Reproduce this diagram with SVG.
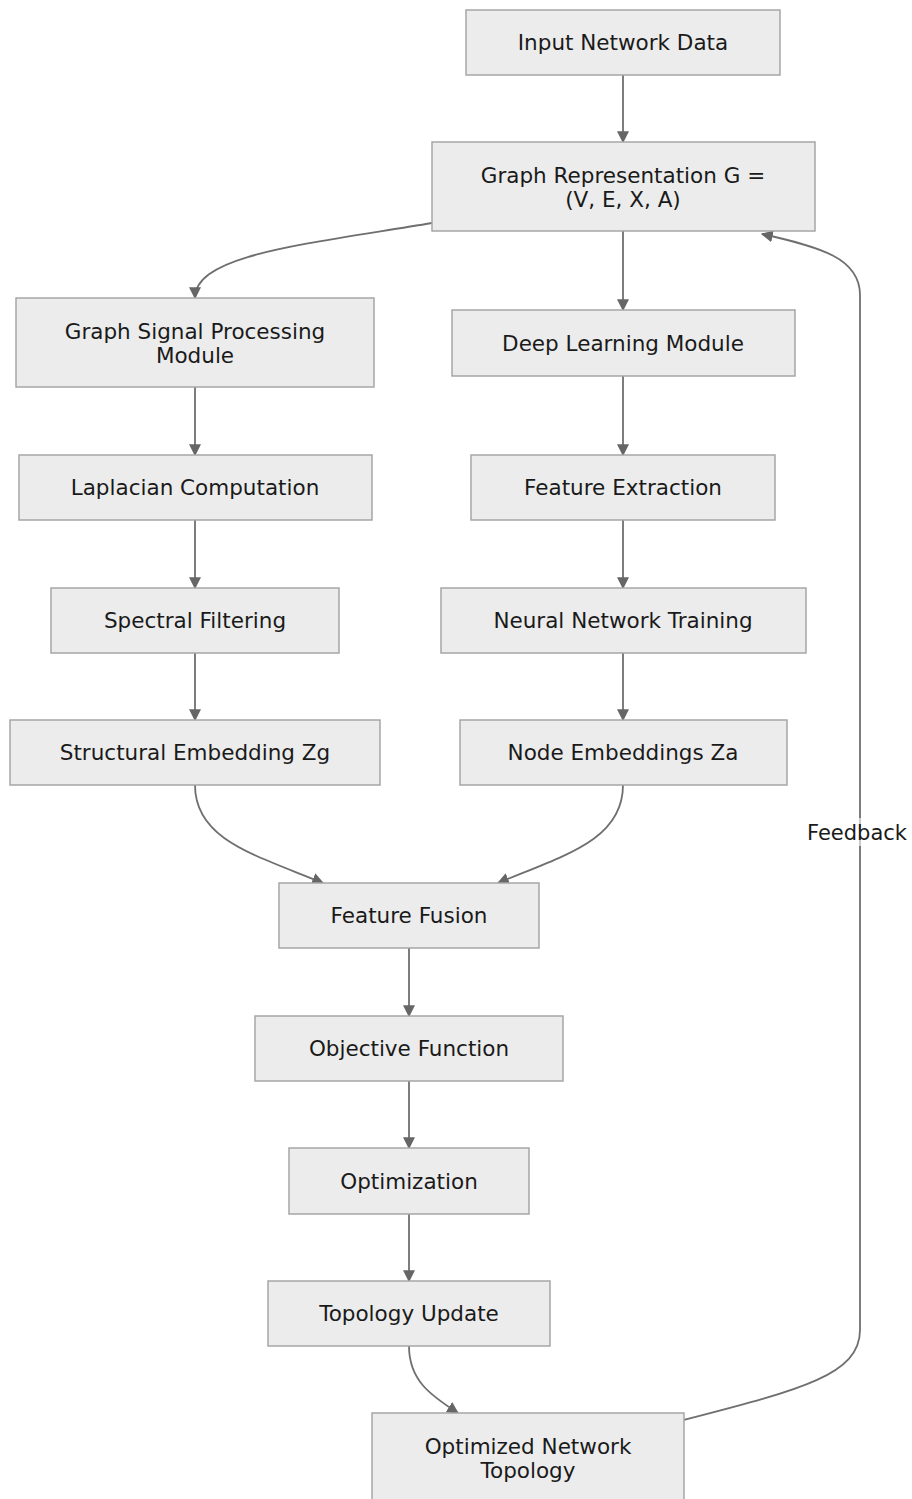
<svg xmlns="http://www.w3.org/2000/svg" width="912" height="1499" viewBox="0 0 912 1499">
<defs>
<style>
.node rect{fill:#ececec;stroke:#a6a6a6;stroke-width:1.5}
.node text{font-family:"DejaVu Sans",sans-serif;font-size:21.5px;fill:#1a1a1a;text-anchor:middle}
.edge{fill:none;stroke:#6f6f6f;stroke-width:1.8}
.lbl{font-family:"DejaVu Sans",sans-serif;font-size:21px;fill:#1a1a1a;text-anchor:middle}
</style>
<marker id="ah" viewBox="0 0 10 10" refX="9" refY="5" markerWidth="12" markerHeight="12" markerUnits="userSpaceOnUse" orient="auto">
<path d="M0,0 L10,5 L0,10 z" fill="#666"/>
</marker>
</defs>
<rect width="912" height="1499" fill="#fff"/>
<g id="connectors">
<path class="edge" marker-end="url(#ah)" d="M623,75 L623,142"/>
<path class="edge" marker-end="url(#ah)" d="M432,223 C300,245 195,255 195,298"/>
<path class="edge" marker-end="url(#ah)" d="M623,231 L623,310"/>
<path class="edge" marker-end="url(#ah)" d="M195,387 L195,455"/>
<path class="edge" marker-end="url(#ah)" d="M623,376 L623,455"/>
<path class="edge" marker-end="url(#ah)" d="M195,520 L195,588"/>
<path class="edge" marker-end="url(#ah)" d="M623,520 L623,588"/>
<path class="edge" marker-end="url(#ah)" d="M195,653 L195,720"/>
<path class="edge" marker-end="url(#ah)" d="M623,653 L623,720"/>
<path class="edge" marker-end="url(#ah)" d="M195,785 C195,840 255,855 323,883"/>
<path class="edge" marker-end="url(#ah)" d="M623,785 C623,840 565,855 498,883"/>
<path class="edge" marker-end="url(#ah)" d="M409,948 L409,1016"/>
<path class="edge" marker-end="url(#ah)" d="M409,1081 L409,1148"/>
<path class="edge" marker-end="url(#ah)" d="M409,1214 L409,1281"/>
<path class="edge" marker-end="url(#ah)" d="M409,1346 C409,1380 430,1395 458,1413"/>
<path class="edge" marker-end="url(#ah)" d="M684,1420 C800,1390 860,1375 860,1330 L860,295 C860,258 820,247 762,234"/>
<rect x="803" y="818" width="108" height="28" fill="#fff" fill-opacity="0.6"/>
<text class="lbl" x="857" y="840">Feedback</text>
</g>
<g id="n1" class="node"><rect x="466" y="10" width="314" height="65"/><text x="623" y="50">Input Network Data</text></g>
<g id="n2" class="node"><rect x="432" y="142" width="383" height="89"/><text x="623" y="183">Graph Representation G =</text><text x="623" y="207">(V, E, X, A)</text></g>
<g id="n3" class="node"><rect x="16" y="298" width="358" height="89"/><text x="195" y="339">Graph Signal Processing</text><text x="195" y="363">Module</text></g>
<g id="n4" class="node"><rect x="452" y="310" width="343" height="66"/><text x="623" y="351">Deep Learning Module</text></g>
<g id="n5" class="node"><rect x="19" y="455" width="353" height="65"/><text x="195" y="495">Laplacian Computation</text></g>
<g id="n6" class="node"><rect x="471" y="455" width="304" height="65"/><text x="623" y="495">Feature Extraction</text></g>
<g id="n7" class="node"><rect x="51" y="588" width="288" height="65"/><text x="195" y="628">Spectral Filtering</text></g>
<g id="n8" class="node"><rect x="441" y="588" width="365" height="65"/><text x="623" y="628">Neural Network Training</text></g>
<g id="n9" class="node"><rect x="10" y="720" width="370" height="65"/><text x="195" y="760">Structural Embedding Zg</text></g>
<g id="n10" class="node"><rect x="460" y="720" width="327" height="65"/><text x="623" y="760">Node Embeddings Za</text></g>
<g id="n11" class="node"><rect x="279" y="883" width="260" height="65"/><text x="409" y="923">Feature Fusion</text></g>
<g id="n12" class="node"><rect x="255" y="1016" width="308" height="65"/><text x="409" y="1056">Objective Function</text></g>
<g id="n13" class="node"><rect x="289" y="1148" width="240" height="66"/><text x="409" y="1189">Optimization</text></g>
<g id="n14" class="node"><rect x="268" y="1281" width="282" height="65"/><text x="409" y="1321">Topology Update</text></g>
<g id="n15" class="node"><rect x="372" y="1413" width="312" height="100"/><text x="528" y="1454">Optimized Network</text><text x="528" y="1478">Topology</text></g>
</svg>
